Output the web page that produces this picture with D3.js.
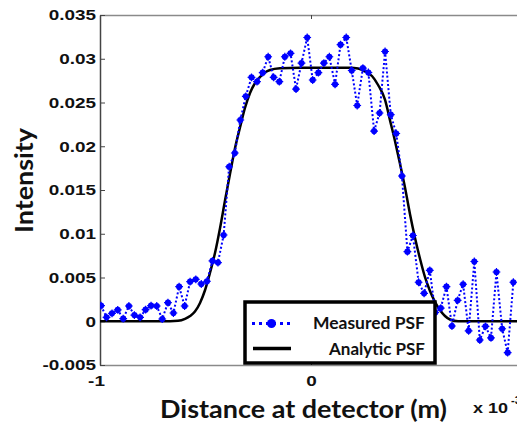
<!DOCTYPE html>
<html>
<head>
<meta charset="utf-8">
<script src="https://cdn.jsdelivr.net/npm/d3@7"></script>
<style>
  html, body { margin: 0; padding: 0; background: #fff; }
  svg { display: block; }
</style>
</head>
<body>
<svg id="chart" width="517" height="425"></svg>
<script>
// ---- data ----
const measuredX = [-0.995,-0.969,-0.943,-0.916,-0.890,-0.863,-0.837,-0.810,-0.784,-0.758,
  -0.731,-0.705,-0.678,-0.652,-0.625,-0.599,-0.573,-0.546,-0.520,-0.493,
  -0.467,-0.441,-0.414,-0.388,-0.361,-0.335,-0.309,-0.282,-0.256,-0.229,
  -0.203,-0.177,-0.150,-0.124,-0.097,-0.071,-0.045,-0.018,0.008,0.035,
  0.061,0.087,0.114,0.140,0.167,0.193,0.219,0.246,0.272,0.299,
  0.325,0.351,0.378,0.404,0.431,0.457,0.483,0.510,0.536,0.563,
  0.589,0.615,0.642,0.668,0.695,0.721,0.747,0.774,0.800,0.827,
  0.853,0.879,0.906,0.932,0.959];
const measuredY = [0.00178,0.00045,0.00091,0.00129,0.00029,0.00174,0.00071,0.00045,0.00132,0.00178,
  0.00174,0.00026,0.00212,0.00094,0.00395,0.00174,0.00452,0.00479,0.00426,0.00457,
  0.00689,0.00671,0.00986,0.01766,0.01923,0.02300,0.02571,0.02788,0.02738,0.02841,
  0.03023,0.02788,0.02738,0.03023,0.03062,0.02654,0.02951,0.03243,0.02757,0.02841,
  0.02951,0.03023,0.02708,0.03161,0.03243,0.02866,0.02466,0.02894,0.02843,0.02174,
  0.02380,0.03083,0.02361,0.02146,0.01660,0.00795,0.00980,0.00446,0.00319,0.00582,
  0.00100,0.00151,0.00395,-0.00054,0.00239,0.00423,-0.00109,0.00683,-0.00214,-0.00058,
  -0.00191,0.00563,-0.00086,-0.00359,0.00446];
const analyticX = [-1.000,-0.668,-0.630,-0.597,-0.573,-0.550,-0.526,-0.502,-0.479,-0.455,
  -0.431,-0.408,-0.384,-0.360,-0.336,-0.313,-0.289,-0.265,-0.242,-0.218,
  -0.194,-0.147,-0.052,0.185,0.223,0.256,0.289,0.318,0.351,0.374,
  0.398,0.422,0.445,0.469,0.493,0.517,0.540,0.564,0.588,0.611,
  0.635,0.659,0.697,1.000];
const analyticY = [0,0,0.00005,0.00028,0.00060,0.00111,0.00209,0.00357,0.00551,0.00780,
  0.01066,0.01374,0.01683,0.01980,0.02220,0.02437,0.02609,0.02723,0.02791,0.02843,
  0.02871,0.02891,0.02898,0.02898,0.02889,0.02854,0.02803,0.02700,0.02529,0.02300,
  0.02060,0.01797,0.01534,0.01226,0.00951,0.00711,0.00506,0.00346,0.00220,0.00129,
  0.00060,0.00020,0,0];
const yTickValues = [0.035,0.03,0.025,0.02,0.015,0.01,0.005,0,-0.005];
const yTickLabels = ["0.035","0.03","0.025","0.02","0.015","0.01","0.005","0","-0.005"];
const xTickValues = [-1,0];
const xTickLabels = ["-1","0"];
const seriesNames = ["Measured PSF","Analytic PSF"];
const xTitle = "Distance at detector (m)";
const yTitle = "Intensity";
const xMultiplier = "x 10";
const xExponent = "-3";

// ---- layout ----
const svg = d3.select("#chart");
const L = 100, R = 522, T = 15, B = 365;
const x = d3.scaleLinear().domain([-1, 1]).range([L, R]);
const y = d3.scaleLinear().domain([-0.005, 0.035]).range([B, T]);
const tickFont = "'Liberation Sans', Arial, sans-serif";
const titleFont = "Lato, 'Open Sans', sans-serif";

svg.append("defs").append("clipPath").attr("id","plotclip")
  .append("rect").attr("x", L).attr("y", T).attr("width", R - L).attr("height", B - T);

// frame lines (top / bottom gray)
svg.append("line").attr("x1", L).attr("x2", R).attr("y1", T + 0.5).attr("y2", T + 0.5)
  .attr("stroke", "#8a8a8a").attr("stroke-width", 1.5);
svg.append("line").attr("x1", L).attr("x2", R).attr("y1", B + 0.5).attr("y2", B + 0.5)
  .attr("stroke", "#8a8a8a").attr("stroke-width", 1.5);

// Y axis
const yAxis = svg.append("g").attr("transform", `translate(${L},0)`)
  .call(d3.axisLeft(y).tickValues(yTickValues)
    .tickFormat((d, i) => yTickLabels[i]).tickSize(-5).tickSizeOuter(0).tickPadding(4));
yAxis.select(".domain").attr("stroke", "#444").attr("stroke-width", 1.5);
yAxis.selectAll(".tick line").attr("stroke", "#444");
yAxis.selectAll("text").attr("font-family", tickFont).attr("font-weight", "bold")
  .attr("font-size", 15.5).attr("fill", "#111");

// X axis (ticks at bottom and top, inward)
const xAxis = svg.append("g").attr("transform", `translate(0,${B})`)
  .call(d3.axisBottom(x).tickValues(xTickValues)
    .tickFormat((d, i) => xTickLabels[i]).tickSize(-5).tickSizeOuter(0).tickPadding(10));
xAxis.select(".domain").remove();
xAxis.selectAll(".tick line").attr("stroke", "#444");
xAxis.selectAll("text").attr("font-family", tickFont).attr("font-weight", "bold")
  .attr("font-size", 15.5).attr("fill", "#111");
xAxis.selectAll(".tick").filter(d => d === -1).select("text").attr("dx", -4);
const xTop = svg.append("g").attr("transform", `translate(0,${T})`)
  .call(d3.axisTop(x).tickValues(xTickValues).tickFormat("").tickSize(-4).tickSizeOuter(0));
xTop.select(".domain").remove();
xTop.selectAll(".tick line").attr("stroke", "#444");

// stretch tick labels horizontally like the reference
svg.selectAll(".tick text").each(function() {
  const w = this.getComputedTextLength();
  if (w > 0) d3.select(this).attr("textLength", w * 1.22).attr("lengthAdjust", "spacingAndGlyphs");
});

// plot content
const plot = svg.append("g").attr("clip-path", "url(#plotclip)");
const analytic = analyticX.map((v, i) => [v, analyticY[i]]);
const measured = measuredX.map((v, i) => [v, measuredY[i]]);

plot.append("path").datum(analytic)
  .attr("d", d3.line().x(d => x(d[0])).y(d => y(d[1])).curve(d3.curveMonotoneX))
  .attr("fill", "none").attr("stroke", "#000").attr("stroke-width", 2.5);

plot.append("path").datum(measured)
  .attr("d", d3.line().x(d => x(d[0])).y(d => y(d[1])))
  .attr("fill", "none").attr("stroke", "#0000ff").attr("stroke-width", 2)
  .attr("stroke-dasharray", "2,2.2");

function marker(g, cx, cy, r) {
  const m = g.append("g").attr("transform", `translate(${cx},${cy})`);
  m.append("circle").attr("r", r).attr("fill", "#0000ff");
  const s = r + 0.8;
  const p = `M${-s},0L${s},0M0,${-s}L0,${s}`;
  m.append("path").attr("d", p).attr("stroke", "#0000ff").attr("stroke-width", 1.2);
}
const mk = plot.append("g");
measured.forEach(d => marker(mk, x(d[0]), y(d[1]), 3.1));

// legend
const lg = svg.append("g");
lg.append("rect").attr("x", 245).attr("y", 302).attr("width", 190).attr("height", 61)
  .attr("fill", "#fff").attr("stroke", "#000").attr("stroke-width", 3.5);
lg.append("line").attr("x1", 252).attr("x2", 292).attr("y1", 323.5).attr("y2", 323.5)
  .attr("stroke", "#0000ff").attr("stroke-width", 3).attr("stroke-dasharray", "3,4");
lg.append("circle").attr("cx", 271.5).attr("cy", 323.5).attr("r", 4.5).attr("fill", "#0000ff");
lg.append("line").attr("x1", 253).attr("x2", 291).attr("y1", 348.5).attr("y2", 348.5)
  .attr("stroke", "#000").attr("stroke-width", 3.5);
lg.append("text").attr("x", 425).attr("y", 329).attr("text-anchor", "end")
  .attr("font-family", titleFont).attr("font-weight", "bold").attr("font-size", 17).attr("fill", "#111")
  .attr("textLength", 112).attr("lengthAdjust", "spacingAndGlyphs").text(seriesNames[0]);
lg.append("text").attr("x", 425).attr("y", 355).attr("text-anchor", "end")
  .attr("font-family", titleFont).attr("font-weight", "bold").attr("font-size", 17).attr("fill", "#111")
  .attr("textLength", 96).attr("lengthAdjust", "spacingAndGlyphs").text(seriesNames[1]);

// titles
svg.append("text").attr("x", 160).attr("y", 418).attr("font-family", titleFont)
  .attr("font-weight", "bold").attr("font-size", 25).attr("fill", "#111")
  .attr("textLength", 287).attr("lengthAdjust", "spacingAndGlyphs").text(xTitle);
svg.append("text").attr("transform", "translate(33,180.5) rotate(-90)")
  .attr("text-anchor", "middle").attr("font-family", titleFont)
  .attr("font-weight", "bold").attr("font-size", 25).attr("fill", "#111")
  .attr("textLength", 105).attr("lengthAdjust", "spacingAndGlyphs").text(yTitle);
svg.append("text").attr("x", 473).attr("y", 413)
  .attr("font-family", tickFont).attr("font-weight", "bold").attr("font-size", 15).attr("fill", "#111")
  .attr("textLength", 35).attr("lengthAdjust", "spacingAndGlyphs").text(xMultiplier);
svg.append("text").attr("x", 511).attr("y", 404)
  .attr("font-family", tickFont).attr("font-weight", "bold").attr("font-size", 11).attr("fill", "#111")
  .text(xExponent);
</script>
</body>
</html>
